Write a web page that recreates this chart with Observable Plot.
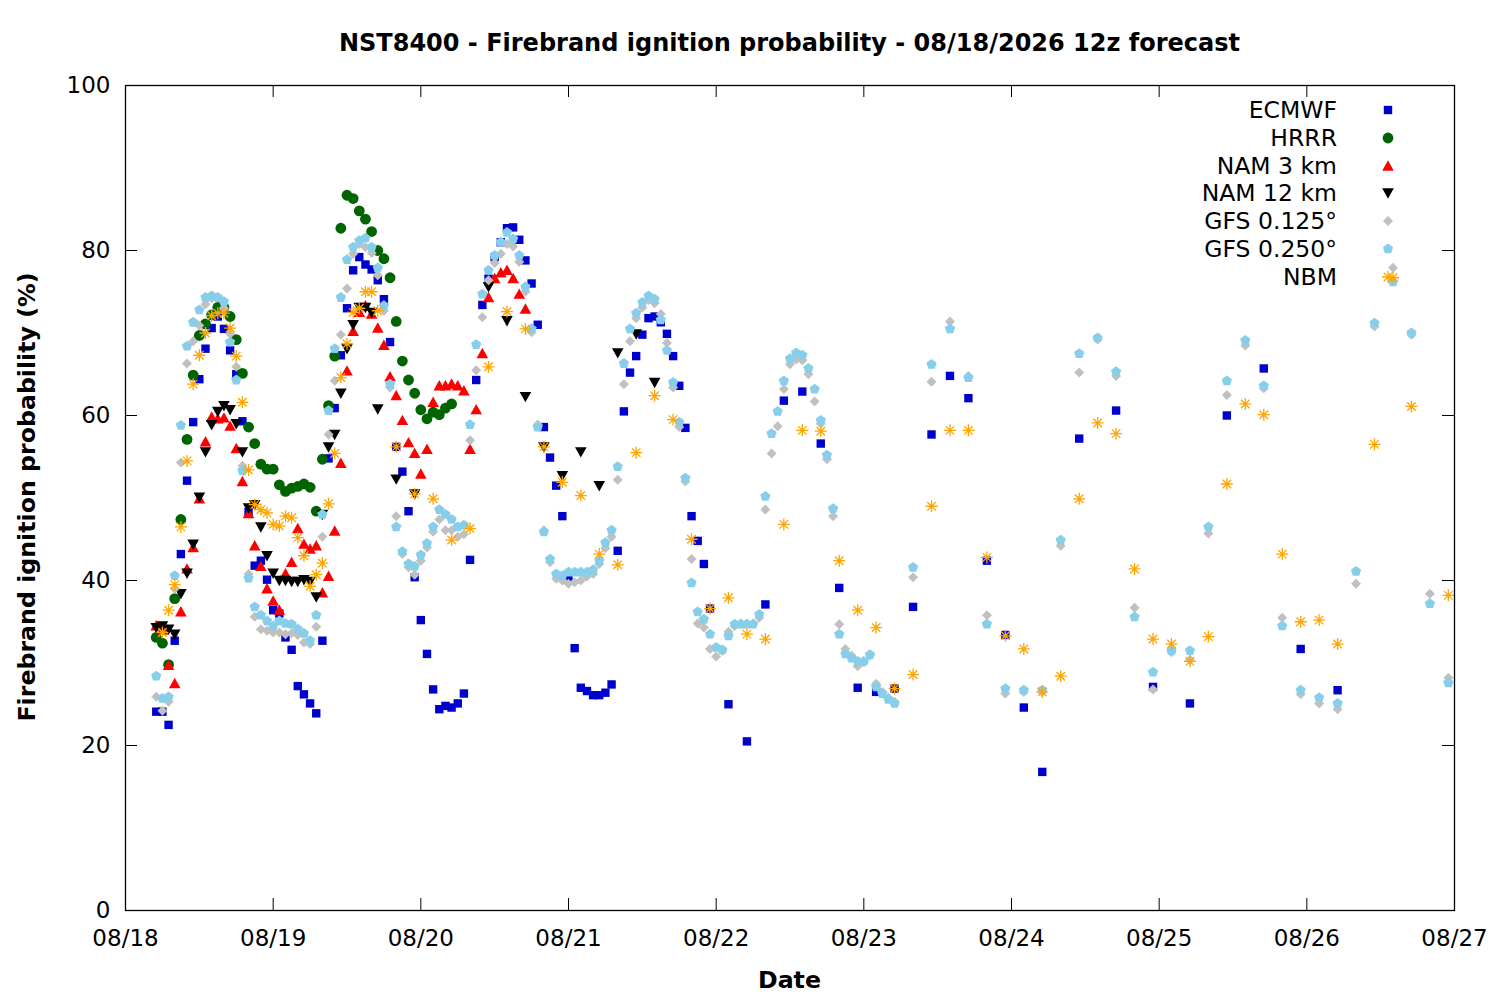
<!DOCTYPE html>
<html>
<head>
<meta charset="utf-8">
<script src="https://cdn.jsdelivr.net/npm/d3@7"></script>
<script src="https://cdn.jsdelivr.net/npm/@observablehq/plot@0.6"></script>
<style>
  body { margin: 0; background: #fff; }
  #wrap { position: relative; width: 1500px; height: 1000px; font-family: "DejaVu Sans", sans-serif; color: #000; }
  #wrap svg { display: block; }
  .ov { position: absolute; white-space: nowrap; line-height: 30px; }
  .title { left: 125px; width: 1329px; top: 28px; text-align: center; font-weight: bold; font-size: 24px; }
  .xlab { left: 125px; width: 1329px; top: 965px; text-align: center; font-weight: bold; font-size: 23.7px; }
  .ylab { left: -273px; width: 600px; top: 482px; text-align: center; font-weight: bold; font-size: 23.7px; transform: rotate(-90deg); }
  .leg { right: 163px; text-align: right; font-size: 23.5px; }
  .legm { position: absolute; width: 24px; height: 24px; }
</style>
</head>
<body>
<div id="wrap"></div>
<script>
// ---------- axis ticks ----------
const xTicks = [0, 24, 48, 72, 96, 120, 144, 168, 192, 216]; // hours since 08/18 00
const xTickLabels = ["08/18", "08/19", "08/20", "08/21", "08/22", "08/23", "08/24", "08/25", "08/26", "08/27"];
const yTicks = [0, 20, 40, 60, 80, 100];

// ---------- series (values in %, first sample hour / step in hours) ----------
// ECMWF: hourly from h5, 3-hourly from h98, 6-hourly from h155
const ecmwfHourly = [
  24.1, 24.1, 22.5, 32.7, 43.2, 52.1, 59.2, 64.4, 68.1, 70.6,
  72.0, 70.5, 67.9, 65.0, 59.3, 48.3, 41.8, 42.4, 40.1, 36.4,
  36.0, 33.1, 31.6, 27.2, 26.2, 25.1, 23.9, 32.7, 54.8, 60.9,
  67.3, 73.0, 77.6, 79.2, 78.3, 77.7, 76.4, 74.1, 68.9, 56.2,
  53.2, 48.4, 40.4, 35.2, 31.1, 26.8, 24.4, 24.8, 24.6, 25.1,
  26.3, 42.5, 64.3, 73.4, 76.6, 79.2, 81.0, 82.7, 82.8, 81.3,
  78.8, 76.0, 71.0, 58.6, 54.9, 51.5, 47.8, 40.3, 31.8, 27.0,
  26.6, 26.1, 26.1, 26.4, 27.4, 43.6, 60.5, 65.2, 67.2, 69.8,
  71.8, 72.0, 71.3, 69.9, 67.2, 63.6, 58.5, 47.8, 44.8, 42.0,
  36.6
];
const ecmwf3h = [25.0, 20.5, 37.1, 61.8, 62.9, 56.6, 39.1, 27.0, 26.5, 26.9, 36.8, 57.7, 64.8, 62.1, 42.4, 33.4, 24.6, 16.8];
const ecmwf6h = [57.2, 60.6, 27.1, 25.1, 60.0, 65.7, 31.7, 26.7];

// HRRR: hourly from h5
const hrrrHourly = [
  33.1, 32.4, 29.8, 37.8, 47.4, 57.1, 64.9, 69.7, 71.1, 72.2,
  73.1, 73.1, 72.0, 69.2, 65.1, 58.6, 56.6, 54.1, 53.5, 53.5,
  51.6, 50.8, 51.2, 51.4, 51.7, 51.3, 48.4, 54.7, 61.2, 67.2,
  82.7, 86.7, 86.3, 84.8, 83.8, 82.3, 80.0, 79.0, 76.7, 71.4,
  66.6, 64.3, 62.7, 60.7, 59.6, 60.4, 60.1, 60.9, 61.4
];

// NAM 3 km: hourly from h5
const nam3Hourly = [
  34.5, 34.0, 29.7, 27.5, 36.2, 41.4, 44.0, 49.9, 56.8, 59.8,
  59.6, 59.7, 58.7, 56.0, 52.0, 48.1, 44.2, 41.7, 39.0, 37.5,
  36.4, 40.8, 42.2, 46.3, 44.4, 43.8, 44.2, 38.5, 40.5, 46.0,
  54.2, 65.4, 70.2, 72.5, 73.3, 72.3, 70.6, 68.5, 64.7, 62.4,
  59.4, 56.7, 55.4, 52.9, 55.9, 61.6, 63.6, 63.6, 63.8, 63.6,
  63.0, 55.9, 60.7, 67.5, 74.3, 76.6, 77.3, 77.6, 76.6, 74.7, 72.9
];

// NAM 12 km: hourly from h5, 3-hourly from h44
const nam12Hourly = [
  34.3, 34.5, 34.1, 33.5, 38.4, 40.9, 44.4, 50.1, 55.6, 58.9,
  60.5, 61.2, 60.7, 59.0, 55.6, 48.8, 49.2, 46.5, 43.0, 40.9,
  40.0, 40.0, 39.9, 39.9, 40.1, 39.9, 38.0, 48.0, 56.2, 57.7,
  62.7, 68.1, 71.0, 73.1, 73.1, 72.5, 60.8
];
const nam12_3h = [52.3, 50.5, null, null, null, 75.6, 71.5, 62.3, 56.2, 52.7, 55.6, 51.5, 67.6, 69.9, 64.0];

// GFS 0.125°: hourly from h5, 3-hourly from h128
const gfs125Hourly = [
  25.9, 24.2, 25.3, 39.0, 54.3, 66.3, 69.0, 70.9, 73.5, 74.2,
  74.3, 73.0, 69.9, 65.9, 53.9, 40.8, 35.6, 34.1, 33.9, 33.7,
  33.7, 33.5, 33.6, 33.4, 32.5, 32.3, 34.4, 45.3, 57.7, 64.2,
  69.8, 75.4, 79.6, 80.8, 80.4, 79.7, 77.0, 72.7, 63.4, 47.8,
  43.2, 41.6, 40.7, 42.4, 44.0, 45.9, 47.4, 46.1, 46.1, 45.3,
  45.6, 57.0, 65.5, 71.9, 76.4, 78.5, 79.6, 80.8, 80.5, 78.6,
  75.0, 70.1, 58.9, 46.1, 42.2, 40.2, 40.0, 39.6, 39.8, 40.0,
  40.5, 40.8, 42.0, 43.9, 45.3, 52.2, 63.8, 69.0, 71.8, 73.1,
  74.0, 73.6, 72.3, 68.8, 63.4, 58.6, 52.0, 42.6, 34.8, 34.3,
  31.7, 30.8, 31.5, 33.8, 34.5, 34.8, 34.8, 34.8, 35.5, 48.6,
  55.4, 58.7, 63.2, 66.2, 66.8, 66.7, 65.0, 61.7, 59.0, 54.7,
  47.8, 34.7, 31.7, 30.9, 29.6, 30.1, 30.9, 27.5, 26.5, 25.8,
  25.3
];
const gfs125_3h = [
  40.4, 64.1, 71.4, 64.8, 35.8, 26.3, 26.5, 26.5, 44.2, 65.2,
  69.2, 64.8, 36.7, 26.8, 31.3, 30.4, 45.7, 62.5, 68.5, 63.3,
  35.5, 26.2, 25.1, 24.4, 39.6, 70.8, 77.9, 69.8, 38.4, 28.2
];

// GFS 0.250°: hourly from h5, 3-hourly from h128
const gfs250Hourly = [
  28.4, 25.7, 25.9, 40.6, 58.8, 68.4, 71.3, 72.8, 74.3, 74.5,
  74.3, 73.8, 68.9, 64.3, 53.3, 40.3, 36.8, 35.8, 35.1, 34.5,
  35.1, 34.8, 34.7, 34.1, 33.6, 32.7, 35.8, 48.0, 60.6, 68.1,
  74.3, 78.9, 80.4, 81.2, 81.5, 80.4, 77.9, 73.3, 63.8, 46.5,
  43.5, 42.0, 41.7, 43.1, 44.5, 46.5, 48.6, 48.0, 47.4, 46.5,
  46.7, 58.9, 68.6, 74.7, 77.6, 79.4, 81.0, 82.2, 81.4, 79.4,
  75.6, 70.5, 58.6, 45.9, 42.6, 40.8, 40.6, 41.0, 41.0, 41.0,
  41.0, 41.3, 42.4, 44.6, 46.1, 53.8, 66.3, 70.5, 72.4, 73.7,
  74.5, 74.1, 71.6, 67.9, 64.0, 59.2, 52.4, 39.7, 36.2, 35.3,
  33.5, 31.9, 31.6, 33.3, 34.7, 34.7, 34.7, 34.7, 35.9, 50.2,
  57.8, 60.5, 64.2, 66.9, 67.6, 67.3, 65.7, 63.2, 59.4, 55.2,
  48.7, 33.5, 31.1, 30.6, 30.2, 30.2, 31.0, 27.1, 26.3, 25.6,
  25.1
];
const gfs250_3h = [
  41.6, 66.2, 70.5, 64.6, 34.7, 26.9, 26.7, 26.7, 44.9, 67.5,
  69.4, 65.3, 35.6, 28.9, 31.5, 31.5, 46.5, 64.2, 69.1, 63.6,
  34.5, 26.7, 25.8, 25.1, 41.1, 71.2, 76.2, 70.0, 37.2, 27.6
];

// NBM: hourly from h6, 3-hourly from h44
const nbmHourly = [
  33.7, 36.4, 39.5, 46.5, 54.5, 63.8, 67.3, 70.0, 72.1, 72.4,
  72.4, 70.6, 67.2, 61.6, 53.4, 49.2, 48.6, 48.2, 46.8, 46.6,
  47.8, 47.6, 45.2, 43.0, 39.3, 40.7, 42.1, 49.3, 55.4, 64.6,
  68.7, 72.5, 73.0, 75.0, 75.0, 72.7
];
const nbm3h = [
  56.2, 50.5, 49.9, 44.9, 46.3, 65.9, 72.6, 70.5, 56.2, 51.9,
  50.3, 43.2, 41.9, 55.5, 62.4, 59.5, 45.0, 36.6, 37.9, 33.5,
  32.9, 46.8, 58.2, 58.1, 42.4, 36.4, 34.3, 26.9, 28.6, 49.0,
  58.2, 58.2, 42.8, 33.3, 31.7, 26.5, 28.4, 49.9, 59.1, 57.8,
  41.4, 32.9, 32.3, 30.2, 33.2, 51.7, 61.4, 60.1, 43.2, 35.0,
  35.2, 32.3, null, 56.5, 76.7, 61.1, null, 38.2
];

const seriesNames = ["ECMWF", "HRRR", "NAM 3 km", "NAM 12 km", "GFS 0.125°", "GFS 0.250°", "NBM"];

// ---------- build tables ----------
function seg(start, step, values) {
  return values.map((v, i) => ({ h: start + i * step, v })).filter(d => d.v != null);
}
const tables = [
  [...seg(5, 1, ecmwfHourly), ...seg(98, 3, ecmwf3h), ...seg(155, 6, ecmwf6h)],
  seg(5, 1, hrrrHourly),
  seg(5, 1, nam3Hourly),
  [...seg(5, 1, nam12Hourly), ...seg(44, 3, nam12_3h)],
  [...seg(5, 1, gfs125Hourly), ...seg(128, 3, gfs125_3h)],
  [...seg(5, 1, gfs250Hourly), ...seg(128, 3, gfs250_3h)],
  [...seg(6, 1, nbmHourly), ...seg(44, 3, nbm3h)]
];

// ---------- point symbols ----------
function sym(fn) { return { draw(ctx, size) { fn(ctx, Math.sqrt(size / Math.PI)); } }; }
const symSquare = sym((c, r) => { c.rect(-r, -r, 2 * r, 2 * r); });
const symCircle = sym((c, r) => { c.moveTo(r, 0); c.arc(0, 0, r, 0, 2 * Math.PI); c.closePath(); });
const symTriUp = sym((c, r) => { c.moveTo(0, -r); c.lineTo(r, 0.8 * r); c.lineTo(-r, 0.8 * r); c.closePath(); });
const symTriDown = sym((c, r) => { c.moveTo(0, r); c.lineTo(r, -0.8 * r); c.lineTo(-r, -0.8 * r); c.closePath(); });
const symDiamond = sym((c, r) => { c.moveTo(0, -r); c.lineTo(r, 0); c.lineTo(0, r); c.lineTo(-r, 0); c.closePath(); });
const symPentagon = sym((c, r) => {
  for (let k = 0; k < 5; k++) {
    const a = -Math.PI / 2 + k * 2 * Math.PI / 5;
    if (k === 0) c.moveTo(r * Math.cos(a), r * Math.sin(a)); else c.lineTo(r * Math.cos(a), r * Math.sin(a));
  }
  c.closePath();
});
const symAsterisk = sym((c, r) => {
  const d = r * Math.SQRT1_2;
  c.moveTo(-r, 0); c.lineTo(r, 0);
  c.moveTo(0, -r); c.lineTo(0, r);
  c.moveTo(-d, -d); c.lineTo(d, d);
  c.moveTo(-d, d); c.lineTo(d, -d);
});

const styles = [
  { symbol: symSquare, r: 4.2, fill: "#0000cd", stroke: "none" },
  { symbol: symCircle, r: 5.4, fill: "#006400", stroke: "none" },
  { symbol: symTriUp, r: 5.8, fill: "#ff0000", stroke: "none" },
  { symbol: symTriDown, r: 5.8, fill: "#000000", stroke: "none" },
  { symbol: symDiamond, r: 5.0, fill: "#c0c0c0", stroke: "none" },
  { symbol: symPentagon, r: 5.4, fill: "#87ceeb", stroke: "none" },
  { symbol: symAsterisk, r: 6.0, fill: "none", stroke: "#ffa500", strokeWidth: 1.3 }
];

const dotMarks = tables.map((t, i) => Plot.dot(t, { x: "h", y: "v", ...styles[i] }));

const chart = Plot.plot({
  width: 1500,
  height: 1000,
  marginLeft: 125,
  marginRight: 46,
  marginTop: 85,
  marginBottom: 90,
  style: { fontFamily: "DejaVu Sans", fontSize: "23px", background: "white", color: "black" },
  x: { domain: [0, 216] },
  y: { domain: [0, 100] },
  marks: [
    Plot.axisX({ ticks: xTicks, tickFormat: d => xTickLabels[xTicks.indexOf(d)], tickSize: 0, tickPadding: 19, fontSize: 23, label: null }),
    Plot.axisY({ ticks: yTicks, tickSize: 0, tickPadding: 15, fontSize: 23, label: null }),
    Plot.tickX(xTicks, { x: d => d, insetTop: 813, stroke: "black", strokeWidth: 1 }),
    Plot.tickX(xTicks, { x: d => d, insetBottom: 813, stroke: "black", strokeWidth: 1 }),
    Plot.tickY(yTicks, { y: d => d, insetRight: 1317, stroke: "black", strokeWidth: 1 }),
    Plot.tickY(yTicks, { y: d => d, insetLeft: 1317, stroke: "black", strokeWidth: 1 }),
    ...dotMarks,
    Plot.frame({ stroke: "black", strokeWidth: 1.3 })
  ]
});

const wrap = document.getElementById("wrap");
wrap.appendChild(chart);

function addDiv(cls, text, extra) {
  const d = document.createElement("div");
  d.className = "ov " + cls;
  d.textContent = text;
  if (extra) Object.assign(d.style, extra);
  wrap.appendChild(d);
  return d;
}
addDiv("title", "NST8400 - Firebrand ignition probability - 08/18/2026 12z forecast");
addDiv("xlab", "Date");
addDiv("ylab", "Firebrand ignition probability (%)");

// legend (top right, inside the frame)
seriesNames.forEach((name, i) => {
  const yc = 110 + i * 27.8;
  addDiv("leg", name, { top: (yc - 15) + "px" });
  const s = styles[i];
  const svg = d3.create("svg").attr("class", "legm")
    .attr("width", 24).attr("height", 24)
    .style("left", (1388 - 12) + "px").style("top", (yc - 12) + "px");
  svg.append("path")
    .attr("transform", "translate(12,12)")
    .attr("d", d3.symbol(s.symbol, Math.PI * s.r * s.r)())
    .attr("fill", s.fill)
    .attr("stroke", s.stroke)
    .attr("stroke-width", s.strokeWidth || null);
  wrap.appendChild(svg.node());
});
</script>
</body>
</html>
